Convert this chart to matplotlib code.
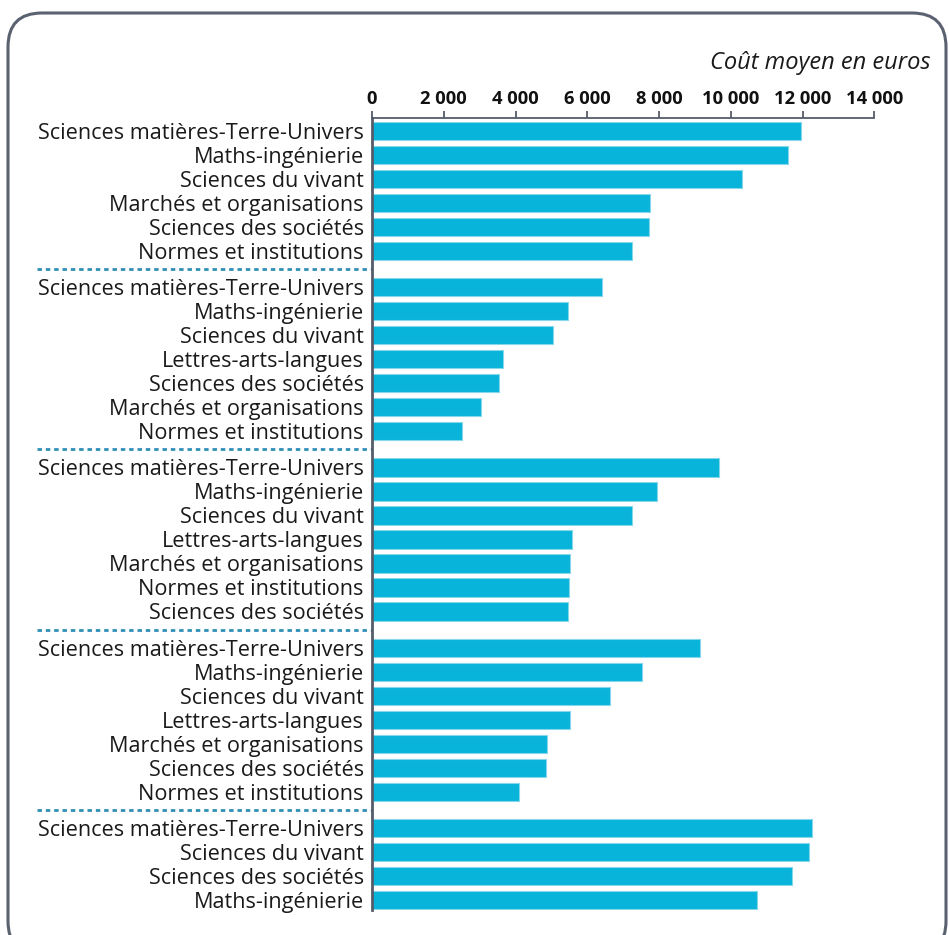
import matplotlib.pyplot as plt
import matplotlib.patches as mpatches
from matplotlib.transforms import IdentityTransform, blended_transform_factory

plt.rcParams['font.family'] = ['Open Sans', 'DejaVu Sans']

# five groups of fields, mean cost in euros
labels_g1 = ['Sciences matières-Terre-Univers', 'Maths-ingénierie', 'Sciences du vivant',
             'Marchés et organisations', 'Sciences des sociétés', 'Normes et institutions']
values_g1 = [11950, 11580, 10320, 7760, 7710, 7240]

labels_g2 = ['Sciences matières-Terre-Univers', 'Maths-ingénierie', 'Sciences du vivant',
             'Lettres-arts-langues', 'Sciences des sociétés', 'Marchés et organisations',
             'Normes et institutions']
values_g2 = [6420, 5450, 5030, 3660, 3550, 3030, 2510]

labels_g3 = ['Sciences matières-Terre-Univers', 'Maths-ingénierie', 'Sciences du vivant',
             'Lettres-arts-langues', 'Marchés et organisations', 'Normes et institutions',
             'Sciences des sociétés']
values_g3 = [9680, 7930, 7240, 5560, 5530, 5490, 5450]

labels_g4 = ['Sciences matières-Terre-Univers', 'Maths-ingénierie', 'Sciences du vivant',
             'Lettres-arts-langues', 'Marchés et organisations', 'Sciences des sociétés',
             'Normes et institutions']
values_g4 = [9130, 7530, 6640, 5530, 4890, 4860, 4110]

labels_g5 = ['Sciences matières-Terre-Univers', 'Sciences du vivant', 'Sciences des sociétés',
             'Maths-ingénierie']
values_g5 = [12250, 12180, 11700, 10720]

groups = [(labels_g1, values_g1), (labels_g2, values_g2), (labels_g3, values_g3),
          (labels_g4, values_g4), (labels_g5, values_g5)]

xticks = [0, 2000, 4000, 6000, 8000, 10000, 12000, 14000]
xtick_labels = ['0', '2 000', '4 000', '6 000', '8 000', '10 000', '12 000', '14 000']

bar_color = '#08b4d9'
axis_color = '#555c69'
sep_color = '#2f8fb6'
gap = 0.51

fig = plt.figure(figsize=(9.49, 9.35), dpi=100)
W, H = 949, 935
ax = fig.add_axes([372 / W, 1 - 910 / H, (874.4 - 372) / W, (910 - 118) / H])

ypos, ylabels, yvals, seps = [], [], [], []
y = 0.0
for gi, (labs, vals) in enumerate(groups):
    if gi > 0:
        seps.append(y - 0.5 + gap / 2)
        y += gap
    for lab, v in zip(labs, vals):
        ypos.append(y)
        ylabels.append(lab)
        yvals.append(v)
        y += 1

ax.barh(ypos, yvals, height=0.76, color=bar_color, edgecolor='#86d6ec', linewidth=0.8)
ax.set_ylim(ypos[-1] + 0.42, -0.54)
ax.set_xlim(0, 14000)

ax.set_yticks(ypos)
ax.set_yticklabels(ylabels, fontsize=15.6, color='#1a1a1a')
ax.tick_params(axis='y', length=0, pad=6)

ax.xaxis.tick_top()
ax.set_xticks(xticks)
ax.set_xticklabels(xtick_labels, fontsize=13.2, fontweight='bold', color='#111111')
ax.tick_params(axis='x', direction='out', length=5, width=1.3, color=axis_color, pad=2)

for s in ['bottom', 'right']:
    ax.spines[s].set_visible(False)
ax.spines['top'].set_color(axis_color)
ax.spines['top'].set_linewidth(1.3)
ax.spines['left'].set_color(axis_color)
ax.spines['left'].set_linewidth(2)

# dotted separators between groups, in the label area
trans = blended_transform_factory(ax.transAxes, ax.transData)
x0 = (37 - 372) / (874.4 - 372)
for s in seps:
    ax.plot([x0, 0], [s, s], transform=trans, clip_on=False, color=sep_color,
            linestyle=(0, (1.6, 1.4)), linewidth=2)

fig.text(930 / W, 1 - 63 / H, 'Coût moyen en euros', ha='right', va='center',
         fontsize=17, style='italic', color='#1a1a1a')

# rounded frame around the chart
frame = mpatches.FancyBboxPatch((8, -20), 938, H - 13 + 20,
                                boxstyle='round,pad=0,rounding_size=34',
                                transform=IdentityTransform(), facecolor='none',
                                edgecolor='#5a6170', linewidth=2.2)
fig.add_artist(frame)

fig.savefig('out.png', dpi=100)
